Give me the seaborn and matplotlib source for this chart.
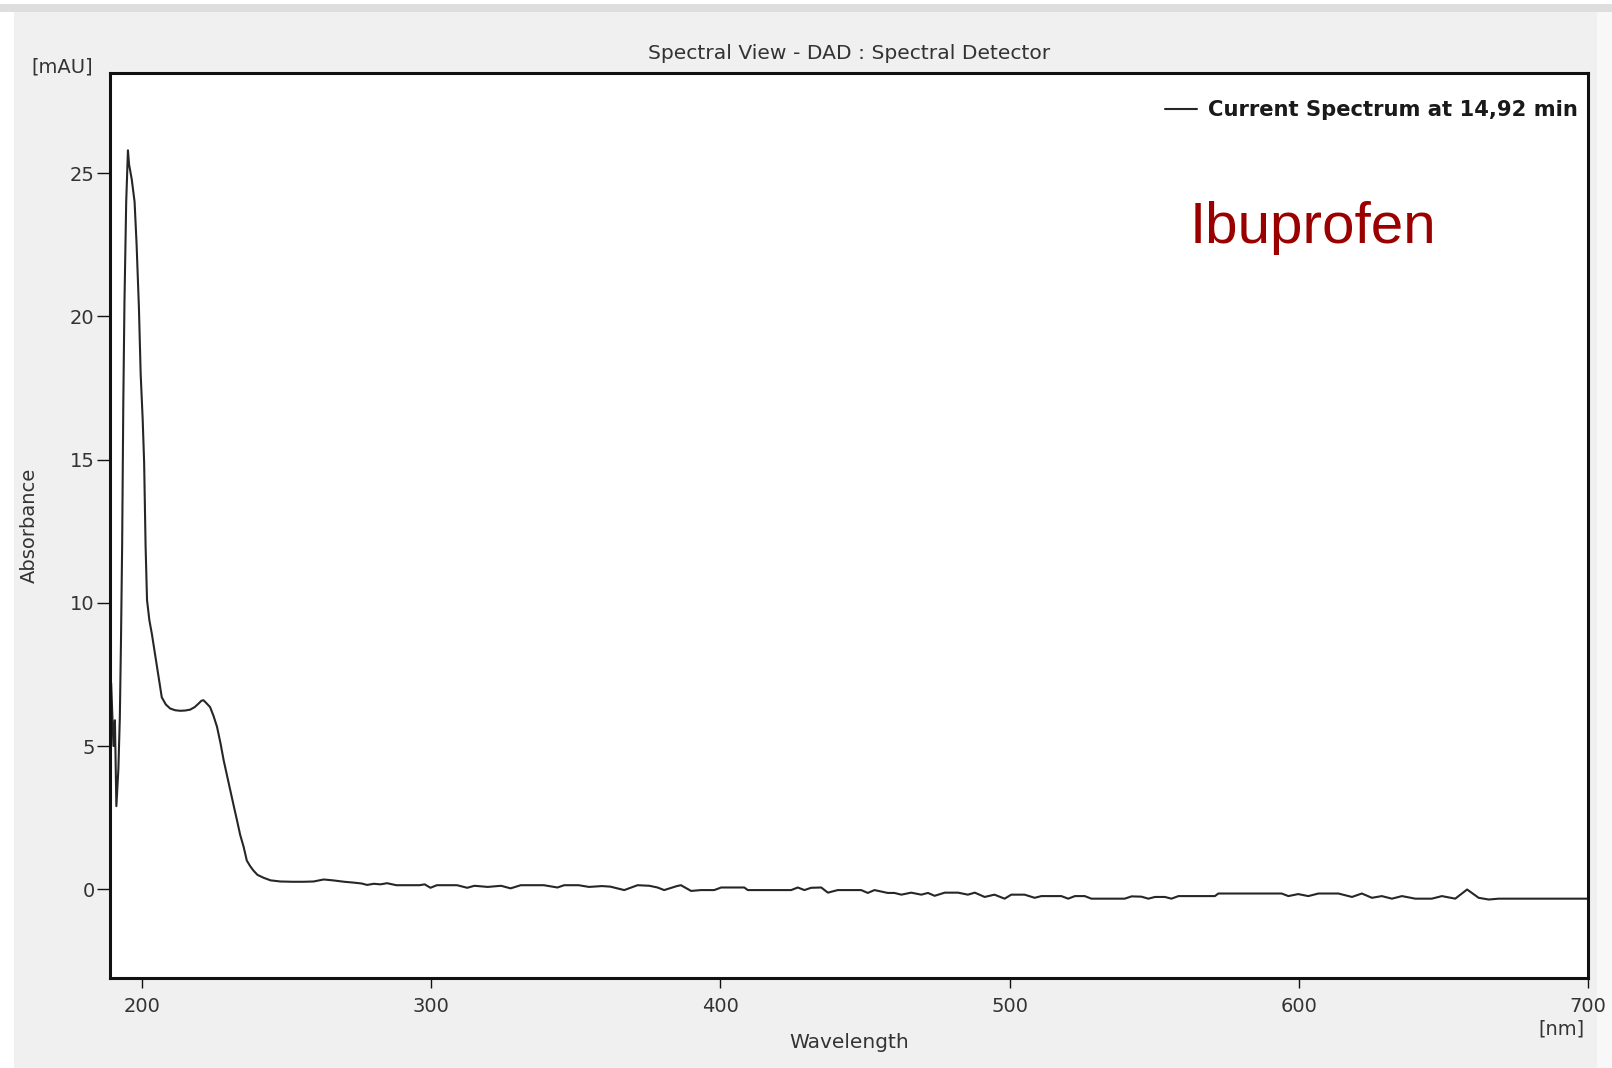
import numpy as np
import pandas as pd
import matplotlib
matplotlib.use('Agg')
import matplotlib.pyplot as plt
import matplotlib.patches as mpatches
import seaborn as sns

wavelength = [189.4, 189.7, 190.2, 190.7, 191.2, 191.9, 192.4, 192.8, 193.2, 193.6,
              194.0, 194.6, 195.2, 195.6, 196.5, 197.5, 198.2, 199.0, 199.6, 200.3,
              200.8, 201.3, 201.8, 202.6, 203.5, 205.2, 206.9, 208.3, 209.8, 211.5,
              213.3, 215.0, 216.7, 218.3, 219.6, 220.6, 221.3, 222.3, 223.6, 224.8,
              226.0, 227.2, 228.3, 229.5, 230.6, 231.8, 232.9, 234.0, 235.2, 236.3,
              237.5, 238.6, 240.0, 242.1, 244.5, 247.9, 252.0, 256.0, 259.4, 262.9,
              266.0, 270.0, 273.3, 276.0, 277.9, 280.2, 282.5, 284.8, 288.0, 292.0,
              296.0, 297.8, 299.8, 302.0, 306.0, 309.0, 312.5, 315.0, 319.6, 324.2,
              327.5, 331.0, 336.0, 339.0, 343.7, 346.0, 351.0, 354.6, 359.1, 362.0,
              366.8, 371.4, 375.5, 378.3, 380.6, 385.0, 386.4, 389.9, 393.3, 397.9,
              400.3, 408.3, 409.5, 424.5, 426.8, 429.1, 431.4, 434.9, 437.2, 440.6,
              448.7, 451.0, 453.3, 457.9, 460.2, 462.6, 466.0, 469.5, 471.8, 474.1,
              477.6, 482.2, 485.6, 488.0, 491.4, 494.8, 498.3, 500.6, 505.2, 508.7,
              511.0, 517.9, 520.3, 522.6, 526.0, 528.3, 539.8, 542.2, 545.6, 548.0,
              550.3, 553.7, 556.0, 558.4, 571.0, 572.2, 594.1, 596.4, 599.8, 603.3,
              606.8, 613.7, 618.4, 621.8, 625.3, 628.7, 632.2, 635.7, 640.3, 646.0,
              649.5, 654.1, 658.2, 662.2, 665.7, 669.1, 700.0]
absorbance = [7.2, 6.4, 5.0, 5.9, 2.9, 4.2, 6.0, 8.7, 12.0, 17.0,
              20.5, 24.0, 25.8, 25.3, 24.8, 24.0, 22.5, 20.3, 18.0, 16.4,
              14.9, 12.0, 10.1, 9.4, 8.9, 7.8, 6.7, 6.45, 6.31, 6.25,
              6.23, 6.24, 6.27, 6.36, 6.48, 6.58, 6.6, 6.5, 6.36, 6.05,
              5.67, 5.1, 4.5, 3.95, 3.46, 2.9, 2.41, 1.9, 1.48, 1.0,
              0.8, 0.65, 0.5, 0.4, 0.31, 0.27, 0.26, 0.26, 0.27, 0.34,
              0.31, 0.26, 0.23, 0.20, 0.15, 0.19, 0.17, 0.21, 0.14, 0.14,
              0.14, 0.17, 0.05, 0.14, 0.14, 0.14, 0.05, 0.12, 0.08, 0.12,
              0.03, 0.14, 0.14, 0.14, 0.06, 0.14, 0.14, 0.08, 0.11, 0.09,
              -0.03, 0.14, 0.12, 0.06, -0.03, 0.11, 0.14, -0.06, -0.03, -0.03,
              0.06, 0.06, -0.03, -0.03, 0.06, -0.03, 0.05, 0.06, -0.12, -0.03,
              -0.03, -0.13, -0.03, -0.13, -0.13, -0.19, -0.12, -0.19, -0.13, -0.23,
              -0.12, -0.12, -0.19, -0.12, -0.27, -0.19, -0.33, -0.19, -0.19, -0.30,
              -0.24, -0.24, -0.33, -0.24, -0.24, -0.33, -0.33, -0.25, -0.26, -0.33,
              -0.27, -0.27, -0.33, -0.24, -0.24, -0.15, -0.15, -0.24, -0.17, -0.24,
              -0.15, -0.15, -0.27, -0.15, -0.30, -0.24, -0.33, -0.24, -0.33, -0.33,
              -0.24, -0.33, -0.01, -0.30, -0.36, -0.33, -0.33]

x_ticks = [200, 300, 400, 500, 600, 700]
y_ticks = [0, 5, 10, 15, 20, 25]
serie_label = 'Current Spectrum at 14,92 min'
compuesto = 'Ibuprofen'

df = pd.DataFrame({'Wavelength': wavelength, 'Absorbance': absorbance})

sns.set_theme(style='white')
plt.rcParams['font.family'] = ['DejaVu Sans']

fondo = '#f0f0f0'
texto = '#333333'

fig = plt.figure(figsize=(16.12, 10.68), dpi=100, facecolor=fondo)
ax = fig.add_axes([110 / 1612, 1 - 978 / 1068, 1478 / 1612, 905 / 1068])
ax.set_facecolor('white')

# bordes de la ventana (detrás de todo)
for (x0, y0, w, h, c) in [(0, 0, 14 / 1612, 1, 'white'),
                          (0, 1 - 12 / 1068, 1, 12 / 1068, '#dedede'),
                          (0, 1 - 4 / 1068, 1, 4 / 1068, 'white'),
                          (1597 / 1612, 0, 15 / 1612, 1 - 12 / 1068, '#f8f8f8')]:
    fig.patches.append(mpatches.Rectangle((x0, y0), w, h, transform=fig.transFigure,
                                          facecolor=c, edgecolor='none', zorder=-5))

sns.lineplot(data=df, x='Wavelength', y='Absorbance', ax=ax, color='#262626',
             linewidth=1.5, estimator=None, sort=False, label=serie_label)

ax.set_xlim(189, 700)
ax.set_ylim(-3.1, 28.5)
ax.set_xticks(x_ticks)
ax.set_yticks(y_ticks)

for s in ax.spines.values():
    s.set_color('#111111')
    s.set_linewidth(2.2)

ax.tick_params(axis='x', direction='out', length=7, width=1, pad=6.5,
               colors='#111111', labelcolor=texto, labelsize=14, bottom=True)
ax.tick_params(axis='y', direction='out', length=9.5, width=1, pad=1.5,
               colors='#111111', labelcolor=texto, labelsize=14, left=True)

ax.set_title('Spectral View - DAD : Spectral Detector', fontsize=14.6, color=texto, pad=10)
ax.set_xlabel('Wavelength', fontsize=14.5, color=texto)
ax.xaxis.set_label_coords(0.5, -0.061)
ax.xaxis.label.set_va('top')
ax.set_ylabel('Absorbance', fontsize=14, color=texto)
ax.yaxis.set_label_coords(-0.048, 0.5)

fig.text(62 / 1612, 1 - 67 / 1068, '[mAU]', fontsize=14, color=texto, ha='center', va='center')
ax.text(0.9817, -0.0564, '[nm]', transform=ax.transAxes, fontsize=14, color=texto,
        ha='center', va='center')

ax.text(0.7307, 0.812, compuesto, transform=ax.transAxes, fontsize=42,
        color='#9b0000', family='Liberation Sans', ha='left', va='baseline')

leg = ax.legend(loc='upper right', bbox_to_anchor=(1.003, 0.986), frameon=False,
                prop={'weight': 'bold', 'size': 15.2}, handlelength=1.55,
                handletextpad=0.5, borderaxespad=0.3)
for t in leg.get_texts():
    t.set_color('#1a1a1a')

fig.savefig('out.png', dpi=100, facecolor=fondo)
